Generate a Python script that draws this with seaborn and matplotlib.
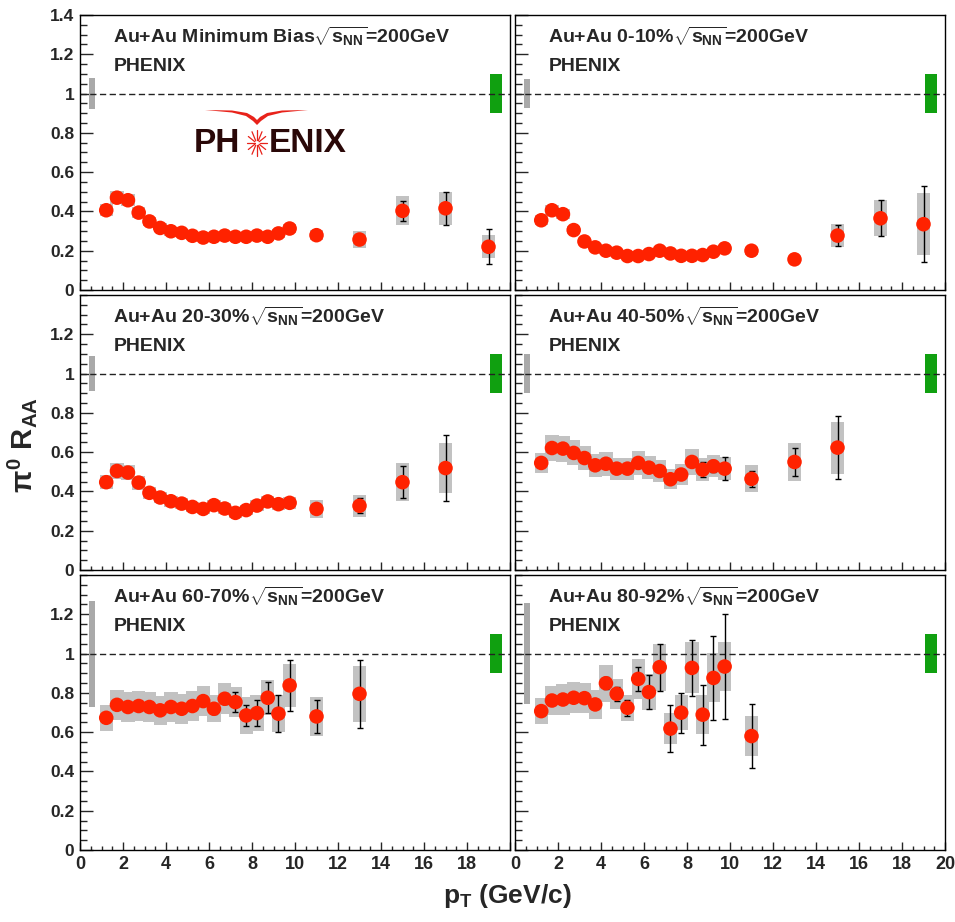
import numpy as np
import pandas as pd
import matplotlib
matplotlib.use("Agg")
import matplotlib.pyplot as plt
from matplotlib.ticker import MultipleLocator, FuncFormatter
from matplotlib.patches import Polygon
from matplotlib.lines import Line2D
import seaborn as sns

# ---------------- data ----------------
pt = [1.22, 1.72, 2.23, 2.73, 3.23, 3.73, 4.23, 4.73, 5.23, 5.73, 6.23, 6.73,
      7.23, 7.73, 8.23, 8.73, 9.23, 9.75, 11.0, 13.0, 15.0, 17.0, 19.0]

titles = ["Au+Au Minimum Bias", "Au+Au 0-10%", "Au+Au 20-30%",
          "Au+Au 40-50%", "Au+Au 60-70%", "Au+Au 80-92%"]

raa_mb = [0.406, 0.470, 0.457, 0.394, 0.349, 0.316, 0.299, 0.291, 0.276, 0.267, 0.271, 0.277,
          0.271, 0.271, 0.277, 0.271, 0.288, 0.313, 0.279, 0.257, 0.403, 0.416, 0.220]
stat_mb = [0.004, 0.004, 0.004, 0.004, 0.004, 0.004, 0.004, 0.004, 0.004, 0.004, 0.004, 0.005,
           0.005, 0.006, 0.006, 0.007, 0.008, 0.010, 0.012, 0.020, 0.052, 0.084, 0.088]
sys_mb = [0.030, 0.032, 0.031, 0.028, 0.025, 0.023, 0.022, 0.021, 0.020, 0.020, 0.020, 0.020,
          0.020, 0.020, 0.020, 0.020, 0.022, 0.024, 0.026, 0.042, 0.074, 0.085, 0.058]

raa_0010 = [0.355, 0.406, 0.386, 0.305, 0.247, 0.217, 0.200, 0.190, 0.173, 0.173, 0.183, 0.200,
            0.186, 0.174, 0.174, 0.178, 0.195, 0.212, 0.200, 0.156, 0.277, 0.365, 0.335]
stat_0010 = [0.004, 0.004, 0.004, 0.004, 0.004, 0.004, 0.004, 0.004, 0.004, 0.004, 0.004, 0.005,
             0.005, 0.005, 0.006, 0.006, 0.007, 0.009, 0.010, 0.015, 0.052, 0.091, 0.193]
sys_0010 = [0.026, 0.028, 0.027, 0.022, 0.019, 0.017, 0.016, 0.015, 0.014, 0.014, 0.014, 0.015,
            0.014, 0.014, 0.014, 0.014, 0.015, 0.016, 0.020, 0.015, 0.057, 0.091, 0.158]

raa_2030 = [0.447, 0.504, 0.496, 0.445, 0.393, 0.369, 0.350, 0.338, 0.321, 0.311, 0.330, 0.313,
            0.291, 0.305, 0.328, 0.349, 0.335, 0.342, 0.311, 0.327, 0.447, 0.519]
stat_2030 = [0.004, 0.004, 0.004, 0.004, 0.004, 0.004, 0.004, 0.005, 0.005, 0.005, 0.006, 0.006,
             0.007, 0.008, 0.009, 0.010, 0.011, 0.013, 0.018, 0.038, 0.082, 0.167]
sys_2030 = [0.036, 0.040, 0.040, 0.036, 0.032, 0.030, 0.029, 0.028, 0.027, 0.026, 0.028, 0.026,
            0.025, 0.026, 0.028, 0.030, 0.029, 0.030, 0.044, 0.057, 0.096, 0.126]

raa_4050 = [0.545, 0.621, 0.618, 0.596, 0.570, 0.533, 0.541, 0.516, 0.516, 0.545, 0.521, 0.504,
            0.462, 0.486, 0.550, 0.511, 0.528, 0.516, 0.464, 0.550, 0.623]
stat_4050 = [0.005, 0.005, 0.005, 0.005, 0.005, 0.006, 0.006, 0.007, 0.008, 0.009, 0.010, 0.012,
             0.014, 0.016, 0.020, 0.037, 0.030, 0.059, 0.041, 0.072, 0.162]
sys_4050 = [0.050, 0.068, 0.066, 0.064, 0.062, 0.058, 0.060, 0.056, 0.056, 0.060, 0.057, 0.055,
            0.052, 0.055, 0.068, 0.060, 0.055, 0.058, 0.069, 0.095, 0.133]

raa_6070 = [0.673, 0.739, 0.728, 0.733, 0.728, 0.711, 0.728, 0.719, 0.733, 0.758, 0.719, 0.770,
            0.753, 0.685, 0.697, 0.775, 0.694, 0.838, 0.680, 0.795]
stat_6070 = [0.008, 0.008, 0.008, 0.009, 0.010, 0.011, 0.012, 0.014, 0.016, 0.018, 0.025, 0.028,
             0.050, 0.055, 0.065, 0.080, 0.095, 0.130, 0.084, 0.173]
sys_6070 = [0.065, 0.075, 0.075, 0.075, 0.075, 0.075, 0.075, 0.075, 0.075, 0.078, 0.068, 0.078,
            0.075, 0.095, 0.090, 0.090, 0.093, 0.110, 0.100, 0.142]

raa_8092 = [0.707, 0.761, 0.766, 0.775, 0.773, 0.741, 0.849, 0.795, 0.724, 0.871, 0.804, 0.931,
            0.618, 0.699, 0.927, 0.689, 0.876, 0.934, 0.580]
stat_8092 = [0.010, 0.010, 0.010, 0.012, 0.014, 0.020, 0.030, 0.035, 0.042, 0.060, 0.085, 0.120,
             0.118, 0.102, 0.144, 0.152, 0.213, 0.267, 0.163]
sys_8092 = [0.068, 0.075, 0.078, 0.080, 0.078, 0.075, 0.095, 0.075, 0.065, 0.100, 0.090, 0.120,
            0.078, 0.089, 0.130, 0.098, 0.125, 0.124, 0.100]

# global normalisation uncertainties (gray: Ncoll, green: p+p)
norm_ncoll = [0.080, 0.072, 0.087, 0.100, 0.270, 0.256]
norm_pp = [0.10, 0.10, 0.10, 0.10, 0.10, 0.10]

panels = [(raa_mb, stat_mb, sys_mb), (raa_0010, stat_0010, sys_0010),
          (raa_2030, stat_2030, sys_2030), (raa_4050, stat_4050, sys_4050),
          (raa_6070, stat_6070, sys_6070), (raa_8092, stat_8092, sys_8092)]

yticks = [0, 0.2, 0.4, 0.6, 0.8, 1.0, 1.2, 1.4]
xticks = [0, 2, 4, 6, 8, 10, 12, 14, 16, 18, 20]

# ---------------- style ----------------
sns.set_style("ticks")
plt.rcParams["font.family"] = ["Liberation Sans", "DejaVu Sans"]
plt.rcParams["mathtext.fontset"] = "custom"
plt.rcParams["mathtext.rm"] = "Liberation Sans:bold"
plt.rcParams["mathtext.it"] = "Liberation Sans:bold"
plt.rcParams["mathtext.bf"] = "Liberation Sans:bold"
plt.rcParams["mathtext.sf"] = "Liberation Sans:bold"

W, H = 955, 922
fig = plt.figure(figsize=(W / 100, H / 100), dpi=100)
fig.patch.set_facecolor("white")

col_x = [80, 515]
row_y = [(15, 290), (295, 570), (575, 850)]
AXW = 430

RED = "#ff2200"
BOX = "#c2c2c2"
NORM = "#a9a9a9"
GREEN = "#10a010"

fmt = FuncFormatter(lambda v, p: f"{v:g}")

for i, (raa, stat, sy) in enumerate(panels):
    r, c = divmod(i, 2)
    y0, y1 = row_y[r]
    ax = fig.add_axes([col_x[c] / W, 1 - y1 / H, AXW / W, (y1 - y0) / H])
    n = len(raa)
    df = pd.DataFrame({"pt": pt[:n], "raa": raa, "stat": stat, "sys": sy})

    # systematic boxes
    ax.bar(df["pt"], 2 * df["sys"], bottom=df["raa"] - df["sys"], width=0.62,
           color=BOX, linewidth=0, zorder=1)
    # normalisation boxes
    ax.bar([0.55], [2 * norm_ncoll[i]], bottom=[1 - norm_ncoll[i]], width=0.3,
           color=NORM, linewidth=0, zorder=1)
    ax.bar([19.35], [2 * norm_pp[i]], bottom=[1 - norm_pp[i]], width=0.55,
           color=GREEN, linewidth=0, zorder=1)
    ax.axhline(1.0, color="#222222", lw=1.0, ls=(0, (4.5, 2.5)), zorder=2)
    # statistical error bars
    ax.errorbar(df["pt"], df["raa"], yerr=df["stat"], fmt="none", ecolor="black",
                elinewidth=1.0, capsize=2.2, capthick=1.0, zorder=3)
    sns.scatterplot(data=df, x="pt", y="raa", ax=ax, color=RED, s=110,
                    edgecolor="none", linewidth=0, zorder=4, legend=False)

    ax.set_xlim(0, 20)
    ax.set_ylim(0, 1.4)
    ax.set_xlabel("")
    ax.set_ylabel("")
    ax.set_xticks(xticks)
    ax.xaxis.set_minor_locator(MultipleLocator(0.5))
    ax.yaxis.set_minor_locator(MultipleLocator(0.05))
    ax.set_yticks(yticks if r == 0 else yticks[:-1])
    ax.yaxis.set_major_formatter(fmt)
    ax.tick_params(axis="y", which="major", direction="in", length=9.5, width=1.0,
                   labelsize=12.5, pad=4)
    ax.tick_params(axis="y", which="minor", direction="in", length=5, width=1.0)
    ax.tick_params(axis="x", which="major", direction="in", length=6, width=1.0,
                   labelsize=13, pad=4)
    ax.tick_params(axis="x", which="minor", direction="in", length=3, width=1.0)
    ax.tick_params(axis="both", which="both", top=False, right=False)
    for lab in ax.get_xticklabels() + ax.get_yticklabels():
        lab.set_fontweight("bold")
    if c == 1:
        ax.tick_params(axis="y", labelleft=False)
    if r < 2:
        ax.tick_params(axis="x", labelbottom=False)
    elif c == 0:
        ax.set_xticklabels([f"{t:g}" if t < 20 else "" for t in xticks],
                           fontweight="bold")
    for s in ax.spines.values():
        s.set_color("black")
        s.set_linewidth(1.0)
        s.set_visible(True)

    ax.text(1.55, 1.29, titles[i] + r"$\sqrt{s_{\mathregular{NN}}}$=200GeV",
            fontsize=14, fontweight="bold", va="center", ha="left", zorder=6)
    ax.text(1.55, 1.14, "PHENIX", fontsize=14, fontweight="bold",
            va="center", ha="left", zorder=6)

# axis titles
fig.text(22 / W, 1 - 445 / H, r"$\pi^{0}$ R$_{\mathregular{AA}}$", rotation=90,
         fontsize=21, fontweight="bold", ha="center", va="center")
fig.text(507 / W, 1 - 896 / H, r"p$_{\mathregular{T}}$ (GeV/c)", fontsize=19,
         fontweight="bold", ha="center", va="center")

# ---------------- PHENIX logo (figure pixel coords) ----------------
def fp(x, y):
    return (x / W, 1 - y / H)

wing = [(205, 110), (232, 110.5), (247, 113), (254, 117), (257, 120), (260, 117),
        (267, 113), (282, 110.5), (308, 110), (282, 112.5), (268, 116), (261, 121),
        (257, 125), (253, 121), (246, 116), (232, 112.5)]
fig.patches.append(Polygon([fp(*p) for p in wing], closed=True, facecolor="#e8221a",
                           edgecolor="none", transform=fig.transFigure, figure=fig))
fig.text(194 / W, 1 - 143 / H, "PH", fontsize=24, fontweight="bold",
         color="#2a0808", ha="left", va="center")
fig.text(269 / W, 1 - 143 / H, "ENIX", fontsize=24, fontweight="bold",
         color="#2a0808", ha="left", va="center")
cx, cy = 257, 143
for k in range(12):
    a = np.pi * k / 6
    p0 = fp(cx + 2.5 * np.cos(a), cy + 2.5 * np.sin(a))
    p1 = fp(cx + 10 * np.cos(a), cy + 13 * np.sin(a))
    fig.lines.append(Line2D([p0[0], p1[0]], [p0[1], p1[1]], color="#e8221a", lw=0.9,
                            transform=fig.transFigure, figure=fig))

fig.savefig("out.png", dpi=100, facecolor="white")
